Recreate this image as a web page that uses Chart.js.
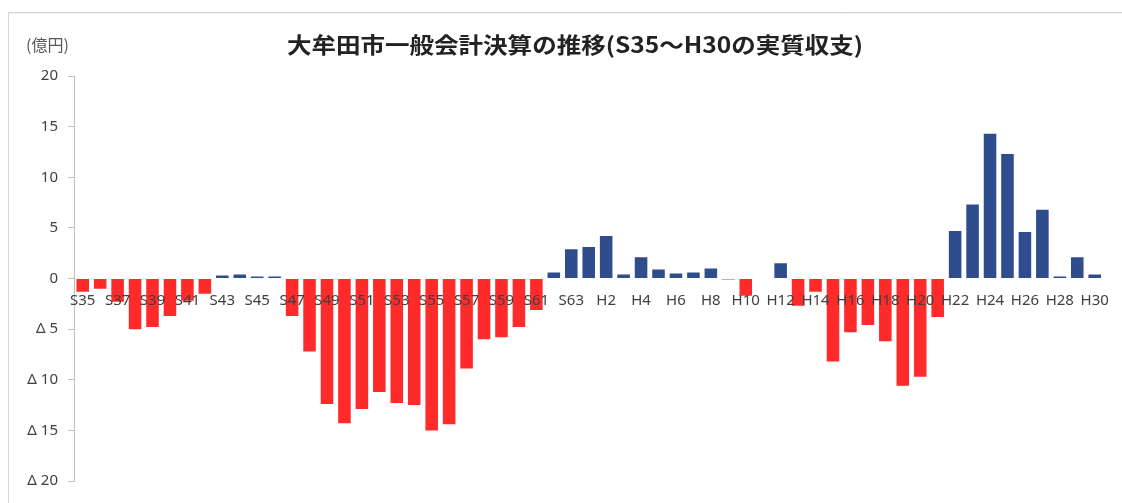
<!DOCTYPE html>
<html lang="ja">
<head>
<meta charset="utf-8">
<title>大牟田市一般会計決算の推移</title>
<script src="https://cdn.jsdelivr.net/npm/chart.js@4/dist/chart.umd.min.js"></script>
<style>
  html, body { margin: 0; padding: 0; background: #ffffff; }
  #wrap { position: relative; width: 1122px; height: 503px; }
</style>
</head>
<body>
<div id="wrap"><canvas id="chart" width="1122" height="503"></canvas></div>
<script>
// 年度（昭和35年度〜平成30年度）
const years = [
  'S35','S36','S37','S38','S39','S40','S41','S42','S43','S44',
  'S45','S46','S47','S48','S49','S50','S51','S52','S53','S54',
  'S55','S56','S57','S58','S59','S60','S61','S62','S63',
  'H1','H2','H3','H4','H5','H6','H7','H8','H9','H10',
  'H11','H12','H13','H14','H15','H16','H17','H18','H19','H20',
  'H21','H22','H23','H24','H25','H26','H27','H28','H29','H30'
];

// 実質収支（億円）
const balance = [
  -1.3, -1.0, -2.3, -5.0, -4.8, -3.7, -2.2, -1.5, 0.3, 0.4,
  0.2, 0.2, -3.7, -7.2, -12.4, -14.3, -12.9, -11.2, -12.3, -12.5,
  -15.0, -14.4, -8.9, -6.0, -5.8, -4.8, -3.1, 0.6, 2.9,
  3.1, 4.2, 0.4, 2.1, 0.9, 0.5, 0.6, 1.0, -0.1, -1.7,
  0, 1.5, -2.7, -1.3, -8.2, -5.3, -4.6, -6.2, -10.6, -9.7,
  -3.8, 4.7, 7.3, 14.3, 12.3, 4.6, 6.8, 0.2, 2.1, 0.4
];

// 縦軸の目盛
const yTicks = [-20, -15, -10, -5, 0, 5, 10, 15, 20];

const chartTitle = '大牟田市一般会計決算の推移(S35～H30の実質収支)';
const unitLabel = '(億円)';

const SURPLUS = '#2f4d8c';
const DEFICIT = '#ff2b2b';
const TEXT = '#404040';

// 枠線・タイトル・単位を描く
const decorations = {
  id: 'decorations',
  beforeDraw(chart) {
    const ctx = chart.ctx;
    ctx.save();
    ctx.strokeStyle = '#d6d6d6';
    ctx.lineWidth = 1;
    ctx.beginPath();
    ctx.moveTo(8.5, 503);
    ctx.lineTo(8.5, 12.5);
    ctx.lineTo(1122, 12.5);
    ctx.stroke();
    ctx.strokeStyle = '#efefef';
    ctx.beginPath();
    ctx.moveTo(9, 13.5);
    ctx.lineTo(1122, 13.5);
    ctx.stroke();
    ctx.restore();
  },
  afterDraw(chart) {
    const ctx = chart.ctx;
    ctx.save();
    ctx.textBaseline = 'middle';
    ctx.fillStyle = '#222222';
    ctx.font = 'bold 22px "Noto Sans CJK JP", sans-serif';
    const w = ctx.measureText(chartTitle).width;
    const target = 576;
    const sx = target / w;
    ctx.translate(575, 45);
    ctx.scale(sx, 1);
    ctx.textAlign = 'center';
    ctx.fillText(chartTitle, 0, 0);
    ctx.restore();

    ctx.save();
    ctx.textBaseline = 'middle';
    ctx.textAlign = 'left';
    ctx.fillStyle = '#595959';
    ctx.font = '16px "Noto Sans CJK JP", sans-serif';
    ctx.fillText(unitLabel, 26, 45);
    ctx.restore();
  }
};

new Chart(document.getElementById('chart'), {
  type: 'bar',
  data: {
    labels: years,
    datasets: [{
      label: '実質収支',
      data: balance,
      backgroundColor: ctx => (ctx.raw < 0 ? DEFICIT : SURPLUS),
      borderWidth: 0,
      barPercentage: 0.72,
      categoryPercentage: 1.0
    }]
  },
  options: {
    responsive: false,
    animation: false,
    layout: { padding: { top: 76, bottom: 22, right: 18, left: 0 } },
    plugins: {
      legend: { display: false },
      title: { display: false },
      tooltip: { enabled: false }
    },
    scales: {
      x: {
        position: { y: 0 },
        grid: { display: false, drawTicks: false },
        border: { display: false },
        ticks: {
          z: 1,
          autoSkip: false,
          maxRotation: 0,
          minRotation: 0,
          padding: 13,
          color: TEXT,
          font: { family: '"Noto Sans", sans-serif', size: 15 },
          callback: (v, i) => (i % 2 === 0 ? years[i] : '')
        }
      },
      y: {
        min: yTicks[0],
        max: yTicks[yTicks.length - 1],
        afterBuildTicks: scale => { scale.ticks = yTicks.map(v => ({ value: v })); },
        afterFit: scale => { scale.width = 74; },
        grid: {
          drawOnChartArea: false,
          drawTicks: true,
          tickLength: 6,
          color: '#bfbfbf'
        },
        border: { display: true, color: '#bfbfbf', width: 1 },
        ticks: {
          padding: 10,
          color: TEXT,
          font: { family: '"Noto Sans", sans-serif', size: 15 },
          callback: v => (v < 0 ? 'Δ ' + Math.abs(v) : String(v))
        }
      }
    }
  },
  plugins: [decorations]
});
</script>
</body>
</html>
